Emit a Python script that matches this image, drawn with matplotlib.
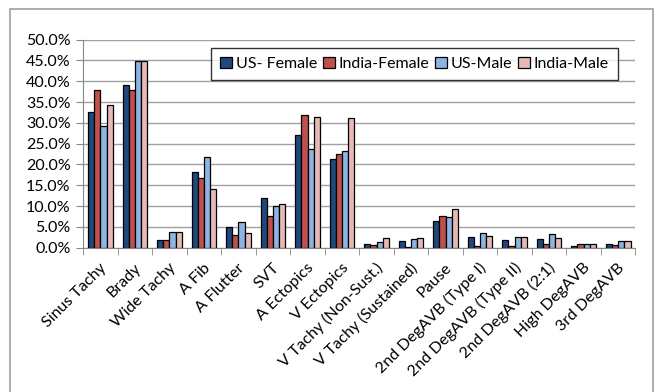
import numpy as np
import matplotlib.pyplot as plt
import matplotlib.transforms as mtransforms
from matplotlib.patches import Rectangle

plt.rcParams['font.family'] = ['Lato', 'DejaVu Sans']

categories = ['Sinus Tachy', 'Brady', 'Wide Tachy', 'A Fib', 'A Flutter', 'SVT',
              'A Ectopics', 'V Ectopics', 'V Tachy (Non-Sust.)', 'V Tachy (Sustained)',
              'Pause', '2nd DegAVB (Type I)', '2nd DegAVB (Type II)', '2nd DegAVB (2:1)',
              'High DegAVB', '3rd DegAVB']

us_female = [32.5, 39.0, 1.8, 18.2, 4.9, 12.0, 27.0, 21.3, 0.8, 1.5, 6.5, 2.7, 1.9, 2.2, 0.4, 0.8]
india_female = [38.0, 38.0, 1.8, 16.7, 3.0, 7.7, 31.9, 22.5, 0.6, 0.2, 7.7, 0.5, 0.5, 0.8, 0.8, 0.6]
us_male = [29.2, 44.8, 3.7, 21.8, 6.1, 10.1, 23.6, 23.2, 1.4, 2.0, 7.3, 3.5, 2.7, 3.2, 0.8, 1.7]
india_male = [34.2, 44.8, 3.7, 14.1, 3.6, 10.6, 31.3, 31.2, 2.4, 2.4, 9.4, 2.9, 2.5, 2.3, 0.9, 1.5]

series = [('US- Female', us_female, '#1F497D'),
          ('India-Female', india_female, '#C0504D'),
          ('US-Male', us_male, '#8DB4E2'),
          ('India-Male', india_male, '#E6B9B8')]

fig = plt.figure(figsize=(6.55, 3.92), dpi=100)
ax = fig.add_axes([0.127, 0.368, 0.843, 0.531])

# chart-area frame
fig.patches.append(Rectangle((0.016, -0.05), 0.981, 1.027, transform=fig.transFigure,
                             fill=False, edgecolor='#A0A0A0', linewidth=1.2))

x = np.arange(len(categories))
w = 0.18
for i, (name, vals, col) in enumerate(series):
    ax.bar(x + (i - 1.5) * w, vals, w, color=col, edgecolor='black', linewidth=0.9,
           label=name, zorder=3)

ax.set_xlim(-0.5, len(categories) - 0.5)
ax.set_ylim(0, 50)
ax.set_yticks(np.arange(0, 50.1, 5))
ax.set_yticklabels(['%.1f%%' % v for v in np.arange(0, 50.1, 5)], fontsize=11.5)
ax.yaxis.grid(True, color='#A0A0A0', linewidth=1.0, zorder=0)

ax.set_xticks(x)
ax.set_xticklabels(categories, rotation=45, ha='right', va='center',
                   rotation_mode='anchor', fontsize=11.5)
ax.tick_params(axis='x', length=0, pad=13)
# nudge rotated labels a little to the right
shift = mtransforms.ScaledTranslation(4 / 100, 0, fig.dpi_scale_trans)
for lbl in ax.get_xticklabels():
    lbl.set_transform(lbl.get_transform() + shift)
ax.set_xticks(np.arange(-0.5, len(categories)), minor=True)
ax.tick_params(axis='x', which='minor', length=5, color='#888888')
ax.tick_params(axis='y', length=5, color='#888888', pad=4)

for s in ['top', 'right']:
    ax.spines[s].set_visible(False)
ax.spines['left'].set_color('#888888')
ax.spines['bottom'].set_color('#888888')

leg = ax.legend(loc='upper left', bbox_to_anchor=(0.2315, 0.96), ncol=4, fontsize=11.5,
                frameon=True, fancybox=False, edgecolor='black', handlelength=0.75,
                handleheight=0.75, handletextpad=0.25, columnspacing=0.35, borderpad=0.55,
                borderaxespad=0)
leg.get_frame().set_linewidth(1.0)

fig.savefig('out.png', dpi=100)
